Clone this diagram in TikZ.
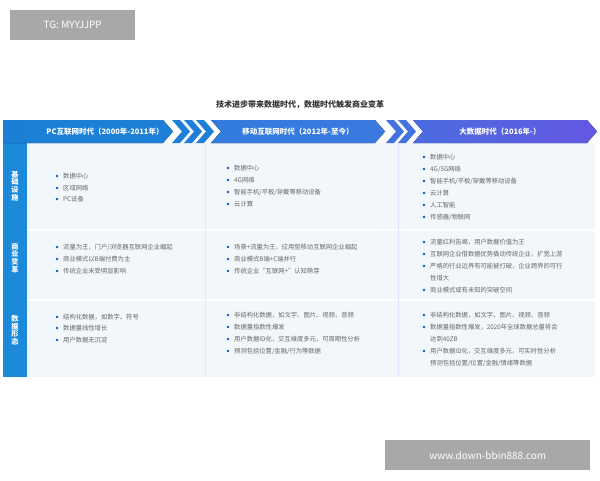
\documentclass[tikz,border=0pt]{standalone}
\usepackage{fontspec}
\setmainfont{Noto Sans CJK SC}
\begin{document}
\begin{tikzpicture}[x=1pt,y=-1pt,
  item/.style={anchor=west,font=\fontsize{6.3}{7}\selectfont,text=black!60,inner sep=0},
  bul/.style={fill=blue!55!cyan!80!black,circle,inner sep=0,minimum size=2.6pt},
  rowlab/.style={font=\fontsize{7.2}{7.6}\selectfont\bfseries,text=white,align=center},
  head/.style={font=\fontsize{7.5}{9}\selectfont\bfseries,text=white}]
\useasboundingbox (0,0) rectangle (600,480);
\fill[white] (0,0) rectangle (600,480);
\definecolor{hb1}{HTML}{1A80D6}
\definecolor{hb2}{HTML}{3A7AE0}
\definecolor{hb3}{HTML}{6458E2}
\definecolor{lc}{HTML}{1C8AD9}
\definecolor{bg}{HTML}{F2F7FC}
\definecolor{wm}{HTML}{A8A8A8}
% watermarks
\node[fill=wm,minimum width=125pt,minimum height=30pt,anchor=north west,text=white,font=\fontsize{10}{12}\selectfont] (wm1) at (10,10) {TG: MYYJJPP};
\node[fill=wm,minimum width=205pt,minimum height=30pt,anchor=north west,text=white,font=\fontsize{10}{12}\selectfont] (wm2) at (385,440) {www.down-bbin888.com};
% title
\node[font=\fontsize{8}{10}\selectfont\bfseries,text=black!80] (title) at (300,105) {技术进步带来数据时代，数据时代触发商业变革};
% content bg
\fill[bg] (27,143) rectangle (595,377);
\draw[white,line width=1.2pt] (27,230) -- (595,230) (27,300) -- (595,300);
\draw[blue!10,line width=0.6pt] (205,143) -- (205,377) (398,143) -- (398,377);
% left column
\fill[lc] (3,120) rectangle (27,377);
% header segments
\fill[left color=hb1,right color=hb1!90!hb2] (3,120) -- (163,120) -- (173,131.5) -- (163,143) -- (3,143) -- cycle;
\foreach \x in {172,184,196}{\fill[hb1!85!hb2] (\x,120) -- (\x+8,120) -- (\x+18,131.5) -- (\x+8,143) -- (\x,143) -- (\x+10,131.5) -- cycle;}
\fill[left color=hb2!80!hb1,right color=hb2] (211,120) -- (375,120) -- (385,131.5) -- (375,143) -- (211,143) -- (221,131.5) -- cycle;
\foreach \x in {386,398}{\fill[hb2!80!hb3] (\x,120) -- (\x+8,120) -- (\x+18,131.5) -- (\x+8,143) -- (\x,143) -- (\x+10,131.5) -- cycle;}
\fill[left color=hb2!60!hb3,right color=hb3] (413,120) -- (587,120) -- (597,131.5) -- (587,143) -- (413,143) -- (423,131.5) -- cycle;
\node[head] (h1) at (105,131.5) {PC互联网时代（2000年-2011年）};
\node[head] (h2) at (298,131.5) {移动互联网时代（2012年-至今）};
\node[head] (h3) at (500,131.5) {大数据时代（2016年-）};
% row labels
\node[rowlab] (r1) at (15,186) {基\\础\\设\\施};
\node[rowlab] (r2) at (15,258) {商\\业\\变\\革};
\node[rowlab] (r3) at (15,330) {数\\据\\形\\态};
% items
\newcommand{\itm}[4][1]{\ifnum#1=1 \node[bul] at (#2-6,#3) {};\fi \node[item] at (#2,#3) {#4};}
\itm{63}{176}{数据中心}
\itm{63}{188}{区域网络}
\itm{63}{199}{PC设备}
\itm{234}{168}{数据中心}
\itm{234}{180}{4G网络}
\itm{234}{192}{智能手机/平板/穿戴等移动设备}
\itm{234}{204}{云计算}
\itm{430}{157}{数据中心}
\itm{430}{169}{4G/5G网络}
\itm{430}{181}{智能手机/平板/穿戴等移动设备}
\itm{430}{193}{云计算}
\itm{430}{205}{人工智能}
\itm{430}{217}{传感器/物联网}
\itm{63}{247}{流量为王，门户/浏览器互联网企业崛起}
\itm{63}{259}{商业模式以B端付费为主}
\itm{63}{271}{传统企业未受明显影响}
\itm{234}{247}{场景+流量为王，应用型移动互联网企业崛起}
\itm{234}{259}{商业模式B端+C端并行}
\itm{234}{271}{传统企业“互联网+”认知萌芽}
\itm{430}{242}{流量红利告竭，用户数据价值为王}
\itm{430}{254}{互联网企业借数据优势撬动传统企业，扩宽上游}
\itm{430}{266}{严格的行业边界有可能被打破，企业跨界的可行}
\itm[0]{430}{278}{性增大}
\itm{430}{290}{商业模式或有未知的突破空间}
\itm{63}{317}{结构化数据，如数字、符号}
\itm{63}{328}{数据量线性增长}
\itm{63}{340}{用户数据无沉淀}
\itm{234}{315}{非结构化数据，如文字、图片、视频、音频}
\itm{234}{327}{数据量指数性爆发}
\itm{234}{339}{用户数据ID化，交互维度多元，可周期性分析}
\itm{234}{351}{预测包括位置/金融/行为等数据}
\itm{430}{315}{非结构化数据，如文字、图片、视频、音频}
\itm{430}{327}{数据量指数性爆发，2020年全球数据总量将会}
\itm[0]{430}{339}{达到40ZB}
\itm{430}{351}{用户数据ID化，交互维度多元，可实时性分析}
\itm[0]{430}{363}{预测包括位置/位置/金融/情绪等数据}
\end{tikzpicture}
\end{document}
